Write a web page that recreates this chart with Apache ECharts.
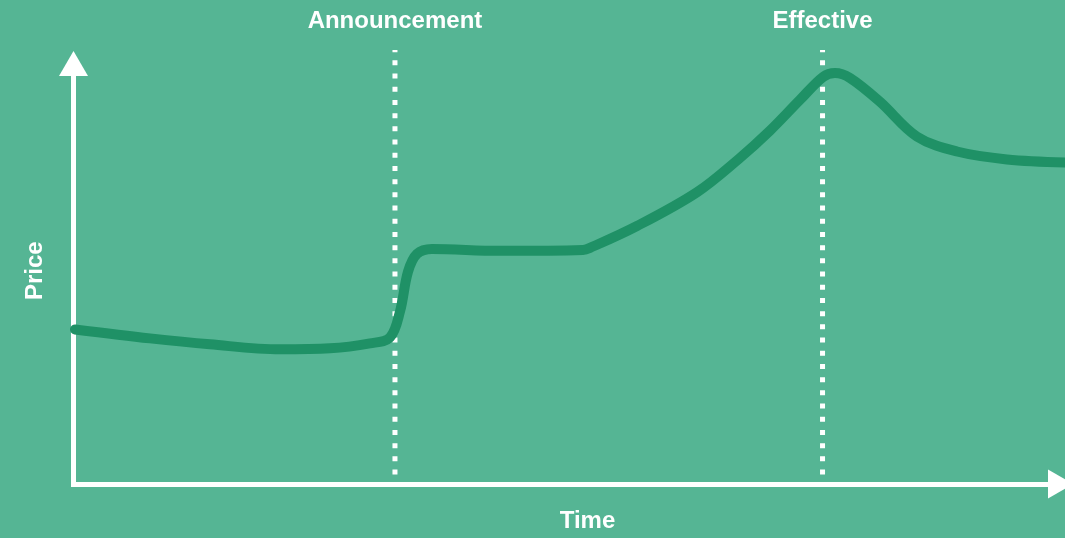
<!DOCTYPE html>
<html>
<head>
<meta charset="utf-8">
<script src="https://cdn.jsdelivr.net/npm/echarts@6/dist/echarts.min.js"></script>
<style>
  html, body { margin: 0; padding: 0; background: #55b594; }
  #chart { width: 1065px; height: 538px; }
</style>
</head>
<body>
<div id="chart"></div>
<script>
// Price path over time (x: time 0-100, y: price 0-100)
const timeValues = [0.15, 7.75, 13.83, 20.92, 25.99, 30.04, 32.07, 33.08, 33.89, 34.80, 36.32, 43.21, 51.62, 52.33,
  57.09, 63.17, 67.40, 70.57, 73.61, 75.94, 77.15, 78.67, 81.71, 85.46, 89.51, 94.58, 100.46];
const priceValues = [36.76, 34.63, 33.22, 32.03, 32.27, 33.45, 34.87, 41.02, 50.47, 54.73, 55.91, 55.44, 55.67, 56.15,
  61.35, 69.39, 77.30, 84.04, 91.37, 96.81, 97.75, 96.57, 90.90, 82.62, 79.07, 77.19, 76.48];

// Event markers
const eventNames = ['Announcement', 'Effective'];
const eventTimes = [32.57, 75.89];
const eventSpan = [2.25, 103.19];   // bottom and top of the dotted markers (price units)

const axisNames = { x: 'Time', y: 'Price' };

const FONT = 'Liberation Sans, Arial, Helvetica, sans-serif';
const WHITE = '#ffffff';

const chart = echarts.init(document.getElementById('chart'));

const eventSeries = eventNames.map((name, i) => ({
  name: name,
  type: 'line',
  z: 1,
  clip: false,
  silent: true,
  symbol: 'none',
  data: [[eventTimes[i], eventSpan[0]], [eventTimes[i], eventSpan[1]]],
  lineStyle: { color: WHITE, width: 5, type: [5, 8.2], cap: 'butt' },
  endLabel: {
    show: true,
    formatter: name,
    distance: 0,
    align: 'center',
    verticalAlign: 'bottom',
    offset: [0, -17],
    color: WHITE,
    fontSize: 24,
    fontWeight: 'bold',
    fontFamily: FONT
  },
  animation: false
}));

const axisLineCommon = {
  show: true,
  symbol: ['none', 'triangle'],
  symbolSize: [29, 25],
  lineStyle: { color: WHITE, width: 5, cap: 'square' }
};

chart.setOption({
  backgroundColor: '#55b594',
  animation: false,
  grid: { left: 73.5, right: 4.5, top: 63.5, bottom: 51.5 },
  xAxis: {
    type: 'value', min: 0, max: 100,
    name: axisNames.x, nameLocation: 'middle', nameGap: 25,
    nameTextStyle: { color: WHITE, fontSize: 24, fontWeight: 'bold', fontFamily: FONT, padding: [0, 0, 0, 41] },
    axisLine: axisLineCommon,
    axisTick: { show: false }, axisLabel: { show: false }, splitLine: { show: false }
  },
  yAxis: {
    type: 'value', min: 0, max: 100,
    name: axisNames.y, nameLocation: 'middle', nameGap: 26,
    nameTextStyle: { color: WHITE, fontSize: 24, fontWeight: 'bold', fontFamily: FONT, padding: [0, 0, 0, 6] },
    axisLine: axisLineCommon,
    axisTick: { show: false }, axisLabel: { show: false }, splitLine: { show: false }
  },
  series: eventSeries.concat([{
    name: 'Price',
    type: 'line',
    z: 3,
    clip: false,
    silent: true,
    symbol: 'none',
    smooth: 0.35,
    data: timeValues.map((t, i) => [t, priceValues[i]]),
    lineStyle: { color: '#1f9166', width: 10, cap: 'round', join: 'round' }
  }])
});
</script>
</body>
</html>
